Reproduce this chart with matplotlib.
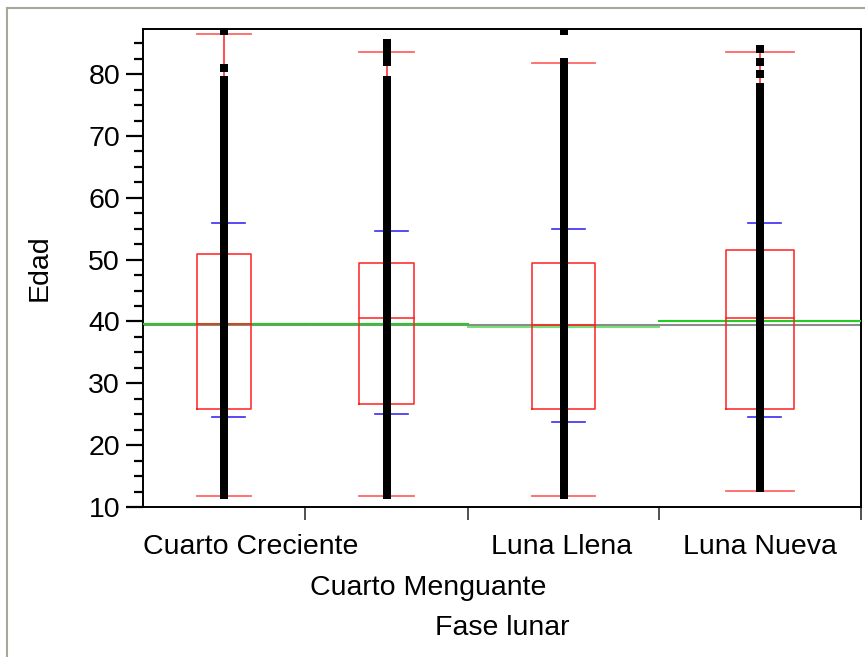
import numpy as np
import matplotlib
matplotlib.use('Agg')
import matplotlib.pyplot as plt
from matplotlib.lines import Line2D
from matplotlib.ticker import MultipleLocator, NullFormatter

plt.rcParams['font.family'] = ['Liberation Sans', 'DejaVu Sans']

# groups (lunar phase) and their relative widths on the x axis (group sizes)
fases = ['Cuarto Creciente', 'Cuarto Menguante', 'Luna Llena', 'Luna Nueva']
group_width = [162, 163, 191, 202]

# distinct ages shown in each column
edad_cc = [12, 13, 14, 15, 16, 17, 18, 19, 20, 21, 22, 23, 24, 25, 26, 27, 28, 29, 30, 31, 32, 33, 34, 35,
           36, 37, 38, 39, 40, 41, 42, 43, 44, 45, 46, 47, 48, 49, 50, 51, 52, 53, 54, 55, 56, 57, 58, 59,
           60, 61, 62, 63, 64, 65, 66, 67, 68, 69, 70, 71, 72, 73, 74, 75, 76, 77, 78, 79, 81, 87]
edad_cm = [12, 13, 14, 15, 16, 17, 18, 19, 20, 21, 22, 23, 24, 25, 26, 27, 28, 29, 30, 31, 32, 33, 34, 35,
           36, 37, 38, 39, 40, 41, 42, 43, 44, 45, 46, 47, 48, 49, 50, 51, 52, 53, 54, 55, 56, 57, 58, 59,
           60, 61, 62, 63, 64, 65, 66, 67, 68, 69, 70, 71, 72, 73, 74, 75, 76, 77, 78, 79, 82, 83, 84, 85]
edad_ll = [12, 13, 14, 15, 16, 17, 18, 19, 20, 21, 22, 23, 24, 25, 26, 27, 28, 29, 30, 31, 32, 33, 34, 35,
           36, 37, 38, 39, 40, 41, 42, 43, 44, 45, 46, 47, 48, 49, 50, 51, 52, 53, 54, 55, 56, 57, 58, 59,
           60, 61, 62, 63, 64, 65, 66, 67, 68, 69, 70, 71, 72, 73, 74, 75, 76, 77, 78, 79, 80, 81, 82, 87]
edad_ln = [13, 14, 15, 16, 17, 18, 19, 20, 21, 22, 23, 24, 25, 26, 27, 28, 29, 30, 31, 32, 33, 34, 35,
           36, 37, 38, 39, 40, 41, 42, 43, 44, 45, 46, 47, 48, 49, 50, 51, 52, 53, 54, 55, 56, 57, 58, 59,
           60, 61, 62, 63, 64, 65, 66, 67, 68, 69, 70, 71, 72, 73, 74, 75, 76, 77, 78, 80, 82, 84]
edades = [edad_cc, edad_cm, edad_ll, edad_ln]

# box plot summaries
q1 = [25.8, 26.7, 25.8, 25.8]
mediana = [39.6, 40.5, 39.5, 40.5]
q3 = [50.9, 49.5, 49.5, 51.5]
bigote_lo = [11.7, 11.7, 11.7, 12.6]
bigote_hi = [86.5, 83.6, 81.8, 83.6]
azul_lo = [24.5, 25.0, 23.7, 24.5]
azul_hi = [55.9, 54.6, 55.0, 55.9]
media = [39.6, 39.6, 39.1, 40.0]
media_global = 39.5

W, H = 865, 657
fig = plt.figure(figsize=(W / 100, H / 100), dpi=100)
ax = fig.add_axes([143 / W, 1 - 507 / H, (861 - 143) / W, (507 - 29) / H])

edges = np.concatenate([[0], np.cumsum(group_width)])
centers = (edges[:-1] + edges[1:]) / 2

# grand mean line
ax.plot([edges[0], edges[-1]], [media_global] * 2, color='#8c8c8c', lw=1.5, zorder=2)

for i in range(len(fases)):
    c = centers[i]
    bw = group_width[i] / 3
    x0, x1 = c - bw / 2, c + bw / 2
    # group mean
    ax.plot([edges[i], edges[i + 1]], [media[i]] * 2, color='#22cc22', lw=1.5,
            alpha=0.6 if i == 2 else 1.0, zorder=3)
    # box
    ax.plot([x0, x1, x1, x0, x0], [q1[i], q1[i], q3[i], q3[i], q1[i]], color='#ff2020', lw=1.1, zorder=4)
    ax.plot([x0, x1], [mediana[i]] * 2, color='#ff2020', lw=1.1, zorder=4)
    # whiskers
    ax.plot([c, c], [bigote_lo[i], q1[i]], color='#ff3030', lw=1.2, zorder=4)
    ax.plot([c, c], [q3[i], bigote_hi[i]], color='#ff3030', lw=1.2, zorder=4)
    ax.plot([x0, x1], [bigote_lo[i]] * 2, color='#ff4040', lw=1.3, alpha=0.8, zorder=4)
    ax.plot([x0, x1], [bigote_hi[i]] * 2, color='#ff4040', lw=1.3, alpha=0.8, zorder=4)
    # blue quantile marks
    ax.plot([c - 12, c + 21], [azul_lo[i]] * 2, color='#3a2cf0', lw=1.2, zorder=4)
    ax.plot([c - 12, c + 21], [azul_hi[i]] * 2, color='#3a2cf0', lw=1.2, zorder=4)
    # points
    ax.plot([c] * len(edades[i]), edades[i], 's', color='black', ms=5.8, mew=0, zorder=5)

ax.set_xlim(edges[0], edges[-1])
ax.set_ylim(10, 87.3)

ax.yaxis.set_major_locator(MultipleLocator(10))
ax.yaxis.set_minor_locator(MultipleLocator(2.5))
ax.tick_params(axis='y', which='major', length=12.5, width=1.6, labelsize=20.5, pad=4, colors='black')
ax.tick_params(axis='y', which='minor', length=6.5, width=1.6)
ax.set_xticks(edges[1:])
ax.xaxis.set_major_formatter(NullFormatter())
ax.tick_params(axis='x', which='major', length=9.5, width=1.2, color='#333333')

for s in ['left', 'bottom', 'top', 'right']:
    ax.spines[s].set_linewidth(1.4)
    ax.spines[s].set_color('black')

# category labels in staggered rows
fs = 20.5
ax.text(edges[0], -0.0837, fases[0], ha='left', va='center', fontsize=fs, transform=ax.get_xaxis_transform())
ax.text(285, -0.1695, fases[1], ha='center', va='center', fontsize=fs, transform=ax.get_xaxis_transform())
ax.text(centers[2] - 2, -0.0837, fases[2], ha='center', va='center', fontsize=fs, transform=ax.get_xaxis_transform())
ax.text(centers[3], -0.0837, fases[3], ha='center', va='center', fontsize=fs, transform=ax.get_xaxis_transform())
ax.text(0.5, -0.253, 'Fase lunar', ha='center', va='center', fontsize=fs, transform=ax.transAxes)

fig.text(40 / W, 1 - 268 / H, 'Edad', rotation=90, ha='center', va='center', fontsize=fs)

# outer gray frame
fig.add_artist(Line2D([7 / W, 7 / W], [0, 1 - 8 / H], color='#a8a89a', lw=1.5, transform=fig.transFigure))
fig.add_artist(Line2D([7 / W, 1], [1 - 8 / H, 1 - 8 / H], color='#a8a89a', lw=1.5, transform=fig.transFigure))

fig.savefig('out.png', dpi=100)
